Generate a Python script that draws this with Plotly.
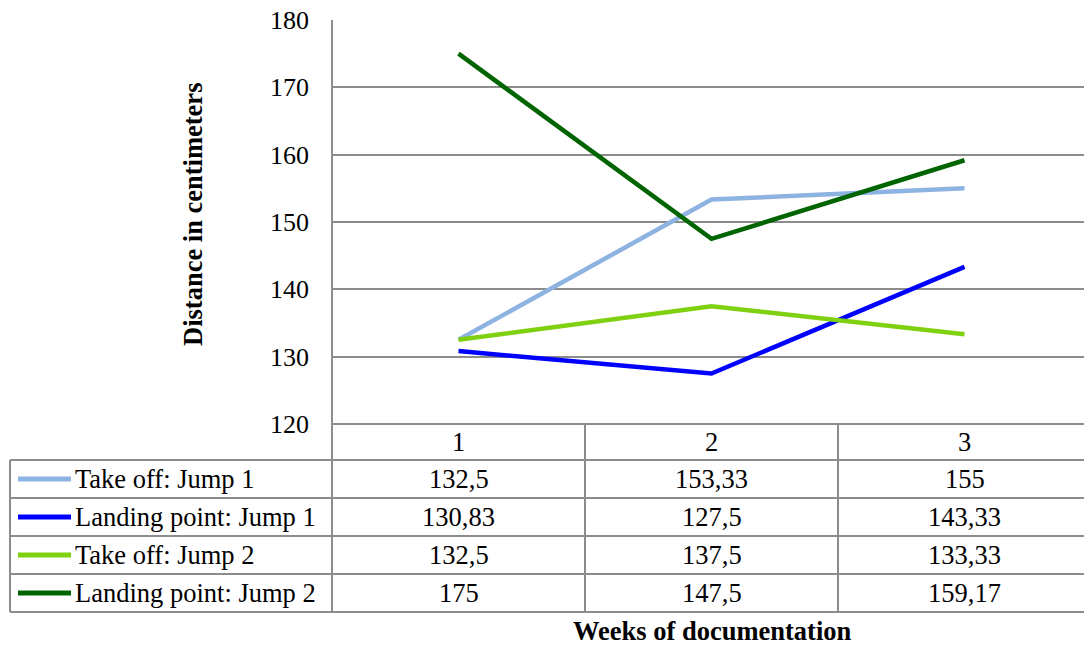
import plotly.graph_objects as go

# Weekly measurements (cm)
weeks = [1, 2, 3]
series_names = ["Take off: Jump 1", "Landing point: Jump 1",
                "Take off: Jump 2", "Landing point: Jump 2"]
takeoff_jump1 = [132.5, 153.33, 155]
landing_jump1 = [130.83, 127.5, 143.33]
takeoff_jump2 = [132.5, 137.5, 133.33]
landing_jump2 = [175, 147.5, 159.17]
series_colors = ["#8DB3E2", "#0000FF", "#7FD10F", "#006400"]
y_ticks = [120, 130, 140, 150, 160, 170, 180]

series_values = [takeoff_jump1, landing_jump1, takeoff_jump2, landing_jump2]

W, H = 1084, 647
FONT = "Liberation Serif"
FS = 26.5
GRID = "#8C8C8C"

# pixel layout helpers
plot_left, plot_top, plot_bottom = 332, 20, 424
table_left = 10
row_edges = [424, 460, 498, 536, 574, 612]


def py(y):
    return 1 - y / H


def px(x):
    return x / W


col_w = 253
x_right = 0.5 + (W - plot_left) / col_w

fig = go.Figure()
for name, vals, col in zip(series_names, series_values, series_colors):
    fig.add_trace(go.Scatter(x=weeks, y=vals, mode="lines", name=name,
                             line=dict(color=col, width=4.5),
                             showlegend=False, cliponaxis=False))

shapes = []
annotations = []
txt_font = dict(size=FS, color="black", family=FONT)

# table horizontal rules
for i, ye in enumerate(row_edges):
    x0 = plot_left if i == 0 else table_left
    shapes.append(dict(type="line", xref="paper", yref="paper",
                       x0=px(x0), x1=1, y0=py(ye), y1=py(ye),
                       line=dict(color=GRID, width=2)))
# table vertical rules
shapes.append(dict(type="line", xref="paper", yref="paper",
                   x0=px(table_left), x1=px(table_left),
                   y0=py(row_edges[1]), y1=py(row_edges[-1]),
                   line=dict(color=GRID, width=2)))
shapes.append(dict(type="line", xref="paper", yref="paper",
                   x0=px(plot_left), x1=px(plot_left),
                   y0=py(plot_top), y1=py(row_edges[-1]),
                   line=dict(color=GRID, width=2)))
for xb in [1.5, 2.5]:
    shapes.append(dict(type="line", xref="x", yref="paper",
                       x0=xb, x1=xb, y0=py(row_edges[0]), y1=py(row_edges[-1]),
                       line=dict(color=GRID, width=2)))

# header row: week numbers
hdr_y = py((row_edges[0] + row_edges[1]) / 2)
for w in weeks:
    annotations.append(dict(x=w, xref="x", y=hdr_y, yref="paper", text=str(w),
                            xanchor="center", yanchor="middle",
                            showarrow=False, font=txt_font))


def fmt(v):
    s = ("%.2f" % v).rstrip("0").rstrip(".")
    return s.replace(".", ",")


for r, (name, vals, col) in enumerate(zip(series_names, series_values, series_colors)):
    yc_px = (row_edges[r + 1] + row_edges[r + 2]) / 2
    yc = py(yc_px)
    # legend key
    shapes.append(dict(type="line", xref="paper", yref="paper",
                       x0=px(18), x1=px(71), y0=yc, y1=yc,
                       line=dict(color=col, width=5)))
    annotations.append(dict(x=px(73), xref="paper", y=yc, yref="paper", text=name,
                            xanchor="left", yanchor="middle", showarrow=False,
                            font=txt_font))
    for w, v in zip(weeks, vals):
        annotations.append(dict(x=w, xref="x", y=yc, yref="paper", text=fmt(v),
                                xanchor="center", yanchor="middle",
                                showarrow=False, font=txt_font))

# axis titles
annotations.append(dict(x=px(193), xref="paper", y=py(215), yref="paper",
                        text="<b>Distance in centimeters</b>", textangle=-90,
                        xanchor="center", yanchor="middle",
                        showarrow=False, font=txt_font))
annotations.append(dict(x=px(712), xref="paper", y=py(631), yref="paper",
                        text="<b>Weeks of documentation</b>",
                        xanchor="center", yanchor="middle",
                        showarrow=False, font=txt_font))

fig.update_layout(
    width=W, height=H,
    margin=dict(l=0, r=0, t=0, b=0, autoexpand=False),
    paper_bgcolor="white", plot_bgcolor="white",
    xaxis=dict(domain=[px(plot_left), 1], range=[0.5, x_right],
               showticklabels=False, showgrid=False, zeroline=False,
               showline=False, ticks="", automargin=False),
    yaxis=dict(domain=[py(plot_bottom), py(plot_top)], range=[120, 180],
               tickvals=y_ticks, ticktext=[str(t) for t in y_ticks],
               showgrid=True, gridcolor=GRID, gridwidth=2,
               zeroline=False, showline=False, ticks="",
               ticklabelstandoff=22, automargin=False,
               tickfont=dict(size=26, color="black", family=FONT)),
    shapes=shapes,
    annotations=annotations,
)

fig.write_html("out.html")
